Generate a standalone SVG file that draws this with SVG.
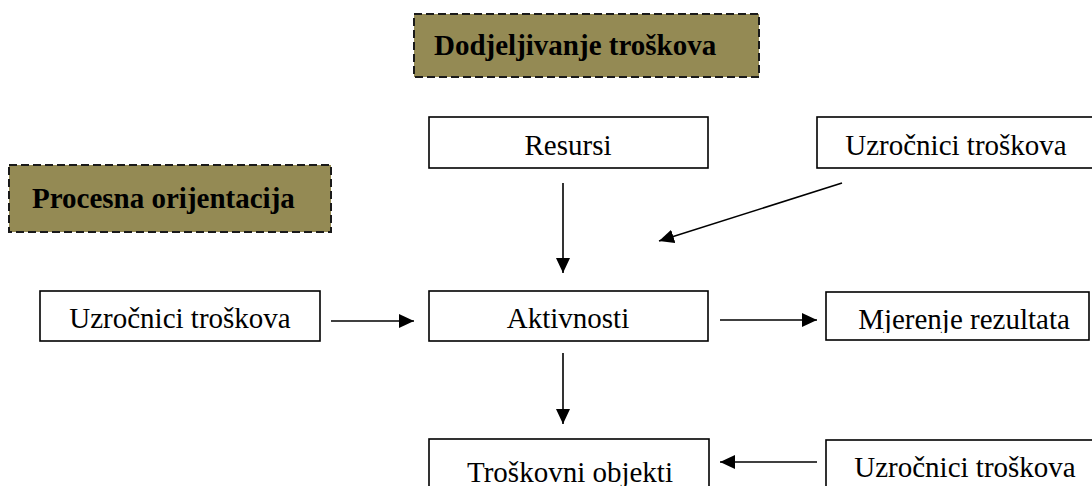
<svg xmlns="http://www.w3.org/2000/svg" width="1092" height="486" viewBox="0 0 1092 486">
<style>
.box{fill:#ffffff;stroke:#000000;stroke-width:1.6}
.hdr{fill:#948A54;stroke:#1a1a1a;stroke-width:2;stroke-dasharray:8 4}
.t{font-family:"Liberation Serif","Times New Roman",serif;font-size:29px;fill:#000000;text-anchor:middle}
.tb{font-family:"Liberation Serif","Times New Roman",serif;font-size:29px;font-weight:bold;fill:#000000}
.c{stroke:#000000;stroke-width:1.6;fill:none;marker-end:url(#ah)}
</style>
<defs>
<marker id="ah" markerUnits="userSpaceOnUse" markerWidth="16" markerHeight="15" refX="15" refY="7" orient="auto">
<path d="M0,0 L15,7 L0,14 z" fill="#000000"/>
</marker>
<clipPath id="clipM"><rect x="826" y="292" width="266" height="41"/></clipPath>
</defs>
<g id="node-dodjeljivanje">
<rect class="hdr" x="414" y="14" width="345" height="63"/>
<text class="tb" x="434" y="55">Dodjeljivanje troškova</text>
</g>
<g id="node-procesna">
<rect class="hdr" x="9" y="165" width="322" height="67"/>
<text class="tb" x="32" y="208">Procesna orijentacija</text>
</g>
<g id="node-resursi">
<rect class="box" x="429" y="117" width="279" height="51"/>
<text class="t" x="568" y="155">Resursi</text>
</g>
<g id="node-uzrocnici-top">
<rect class="box" x="817" y="117" width="280" height="51"/>
<text class="t" x="956" y="155">Uzročnici troškova</text>
</g>
<g id="node-uzrocnici-left">
<rect class="box" x="40" y="291" width="280" height="50"/>
<text class="t" x="180" y="328">Uzročnici troškova</text>
</g>
<g id="node-aktivnosti">
<rect class="box" x="429" y="291" width="279" height="50"/>
<text class="t" x="568" y="328">Aktivnosti</text>
</g>
<g id="node-mjerenje">
<rect class="box" x="826" y="292" width="263" height="48"/>
<text class="t" x="964" y="329" clip-path="url(#clipM)">Mjerenje rezultata</text>
</g>
<g id="node-troskovni">
<rect class="box" x="429" y="439" width="280" height="60"/>
<text class="t" x="570" y="482">Troškovni objekti</text>
</g>
<g id="node-uzrocnici-bottom">
<rect class="box" x="826" y="440" width="280" height="60"/>
<text class="t" x="965" y="477">Uzročnici troškova</text>
</g>
<g id="connectors">
<line class="c" x1="563" y1="183" x2="563" y2="273"/>
<line class="c" x1="842" y1="183" x2="659" y2="241"/>
<line class="c" x1="331" y1="321" x2="414" y2="321"/>
<line class="c" x1="720" y1="320" x2="817" y2="320"/>
<line class="c" x1="563" y1="353" x2="563" y2="424"/>
<line class="c" x1="817" y1="462" x2="720" y2="462"/>
</g>
</svg>
